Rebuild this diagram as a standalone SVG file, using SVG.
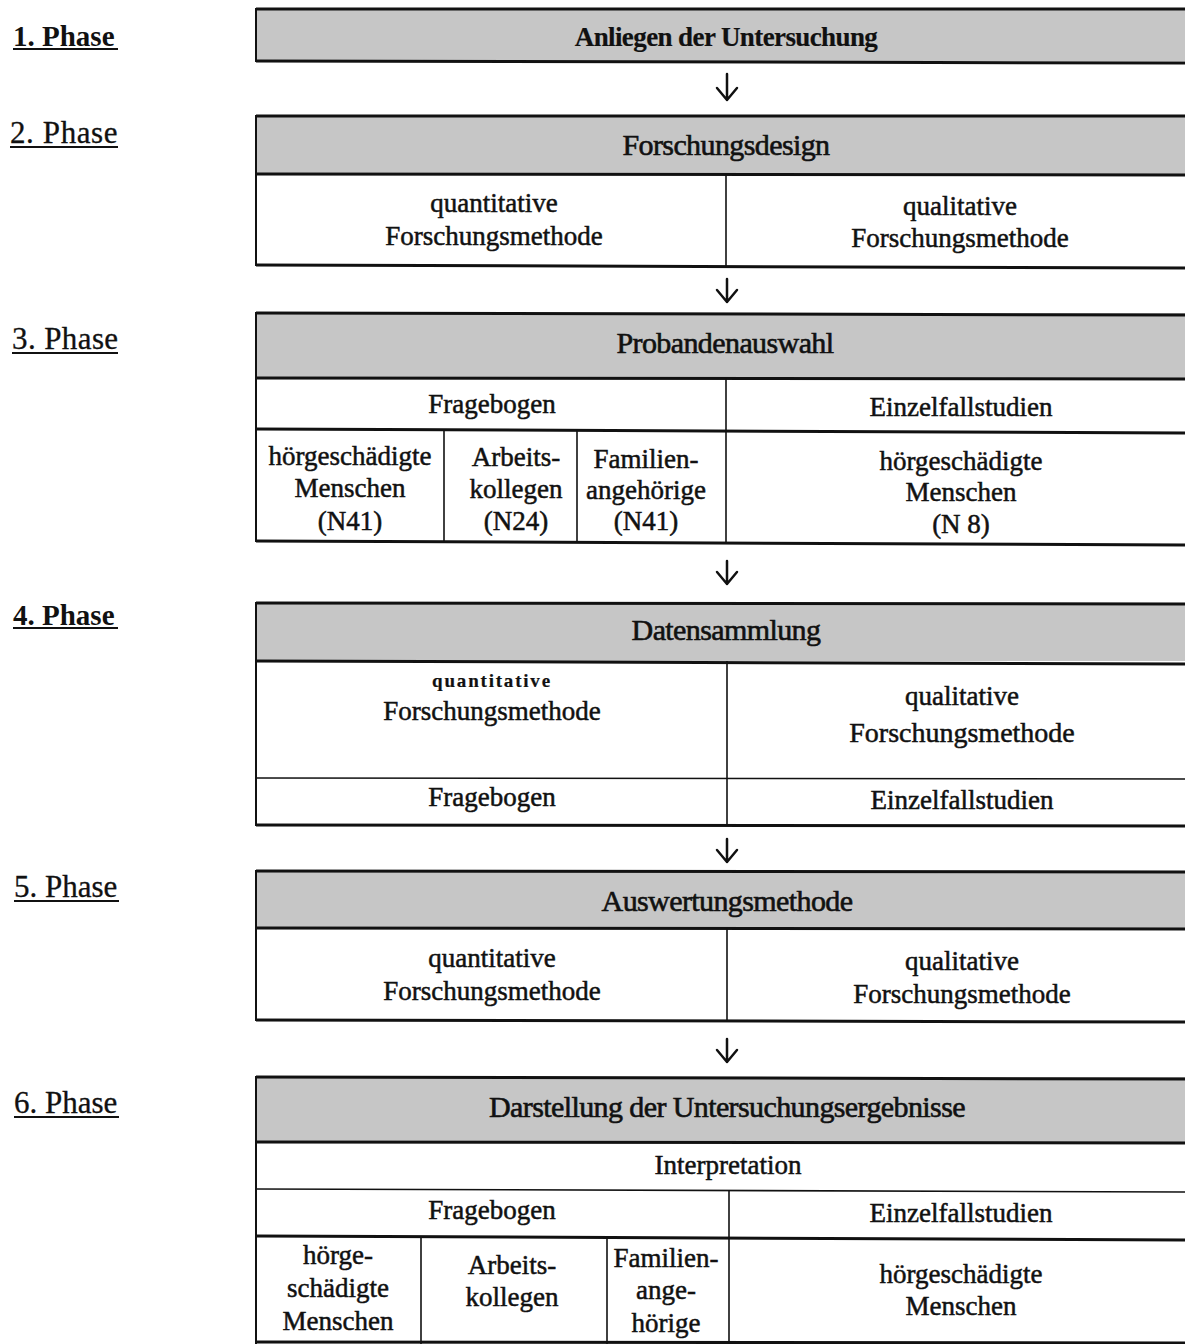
<svg xmlns="http://www.w3.org/2000/svg" width="1185" height="1344" viewBox="0 0 1185 1344">
<defs>
<style>
.hdr{fill:#c6c6c6}
.cell{fill:#ffffff}
.hl{stroke:#111;stroke-width:3;fill:none}
.vl{stroke:#111;stroke-width:1.6;fill:none}
.lb{stroke:#111;stroke-width:2;fill:none}
.t{font-family:"Liberation Serif","Times New Roman",serif;font-size:27px;fill:#111;stroke:#111;stroke-width:0.5;text-anchor:middle}
.h{font-family:"Liberation Serif","Times New Roman",serif;font-size:30px;fill:#111;stroke:#111;stroke-width:0.6;text-anchor:middle;letter-spacing:-0.6px}
.ph{font-family:"Liberation Serif","Times New Roman",serif;font-size:31px;fill:#111;stroke:#111;stroke-width:0.3}
.phb{font-family:"Liberation Serif","Times New Roman",serif;font-size:29px;font-weight:bold;fill:#111}
.ul{stroke:#111;stroke-width:2.2}
.arr{stroke:#111;stroke-width:2.5;fill:none;stroke-linecap:round;stroke-linejoin:round}
</style>
</defs>
<rect width="1185" height="1344" fill="#ffffff"/>

<g id="phase-labels">
<g id="label1"><text class="phb" x="13" y="46">1. Phase</text><line class="ul" x1="13" y1="49" x2="118" y2="49"/></g>
<g id="label2"><text class="ph" x="10" y="143" letter-spacing="0.6">2. Phase</text><line class="ul" x1="10" y1="147" x2="118" y2="147"/></g>
<g id="label3"><text class="ph" x="12" y="349" letter-spacing="0.4">3. Phase</text><line class="ul" x1="12" y1="353" x2="118" y2="353"/></g>
<g id="label4"><text class="phb" x="13" y="625">4. Phase</text><line class="ul" x1="13" y1="628" x2="118" y2="628"/></g>
<g id="label5"><text class="ph" x="14" y="897">5. Phase</text><line class="ul" x1="14" y1="901" x2="119" y2="901"/></g>
<g id="label6"><text class="ph" x="14" y="1113">6. Phase</text><line class="ul" x1="14" y1="1117" x2="119" y2="1117"/></g>
</g>

<g id="phase1">
<rect class="hdr" x="256" y="9" width="940" height="52"/>
<line class="hl" x1="256" y1="9" x2="1190" y2="9"/>
<line class="hl" x1="256" y1="61" x2="1190" y2="63"/>
<line class="lb" x1="256" y1="8" x2="256" y2="62"/>
<text class="h" x="726" y="46" style="font-weight:bold;font-size:27px;stroke-width:0.2">Anliegen der Untersuchung</text>
</g>

<g id="phase2">
<rect class="hdr" x="256" y="116" width="940" height="58"/>
<rect class="cell" x="256" y="174" width="940" height="92"/>
<line class="hl" x1="256" y1="116" x2="1190" y2="116"/>
<line class="hl" x1="256" y1="174" x2="1190" y2="175"/>
<line class="hl" x1="256" y1="265" x2="1190" y2="268"/>
<line class="lb" x1="256" y1="115" x2="256" y2="266"/>
<line class="vl" x1="726" y1="174" x2="726" y2="267"/>
<text class="h" x="726" y="155">Forschungsdesign</text>
<text class="t" x="494" y="212">quantitative</text>
<text class="t" x="494" y="245">Forschungsmethode</text>
<text class="t" x="960" y="215">qualitative</text>
<text class="t" x="960" y="247">Forschungsmethode</text>
</g>

<g id="phase3">
<rect class="hdr" x="256" y="313" width="940" height="65"/>
<rect class="cell" x="256" y="378" width="940" height="163"/>
<line class="hl" x1="256" y1="313" x2="1190" y2="315"/>
<line class="hl" x1="256" y1="378" x2="1190" y2="379"/>
<line class="hl" x1="256" y1="429" x2="1190" y2="433"/>
<line class="hl" x1="256" y1="541" x2="1190" y2="545"/>
<line class="lb" x1="256" y1="312" x2="256" y2="542"/>
<line class="vl" x1="726" y1="378" x2="726" y2="543"/>
<line class="vl" x1="444" y1="430" x2="444" y2="541"/>
<line class="vl" x1="577" y1="430" x2="577" y2="542"/>
<text class="h" x="725" y="353">Probandenauswahl</text>
<text class="t" x="492" y="413">Fragebogen</text>
<text class="t" x="961" y="416">Einzelfallstudien</text>
<text class="t" x="350" y="465">hörgeschädigte</text>
<text class="t" x="350" y="497">Menschen</text>
<text class="t" x="350" y="530">(N41)</text>
<text class="t" x="516" y="466">Arbeits-</text>
<text class="t" x="516" y="498">kollegen</text>
<text class="t" x="516" y="530">(N24)</text>
<text class="t" x="646" y="468">Familien-</text>
<text class="t" x="646" y="499">angehörige</text>
<text class="t" x="646" y="530">(N41)</text>
<text class="t" x="961" y="470">hörgeschädigte</text>
<text class="t" x="961" y="501">Menschen</text>
<text class="t" x="961" y="533">(N 8)</text>
</g>

<g id="phase4">
<rect class="hdr" x="256" y="603" width="940" height="58"/>
<rect class="cell" x="256" y="661" width="940" height="164"/>
<line class="hl" x1="256" y1="603" x2="1190" y2="604"/>
<line class="hl" x1="256" y1="661" x2="1190" y2="664"/>
<line class="vl" x1="256" y1="778" x2="1190" y2="779"/>
<line class="hl" x1="256" y1="825" x2="1190" y2="826"/>
<line class="lb" x1="256" y1="602" x2="256" y2="826"/>
<line class="vl" x1="727" y1="661" x2="727" y2="826"/>
<text class="h" x="726" y="640">Datensammlung</text>
<text class="t" x="492" y="687" style="font-size:19px;font-weight:bold;letter-spacing:1.8px;stroke-width:0.2">quantitative</text>
<text class="t" x="492" y="720">Forschungsmethode</text>
<text class="t" x="962" y="705">qualitative</text>
<text class="t" x="962" y="742" style="font-size:28px">Forschungsmethode</text>
<text class="t" x="492" y="806">Fragebogen</text>
<text class="t" x="962" y="809">Einzelfallstudien</text>
</g>

<g id="phase5">
<rect class="hdr" x="256" y="871" width="940" height="57"/>
<rect class="cell" x="256" y="928" width="940" height="92"/>
<line class="hl" x1="256" y1="871" x2="1190" y2="872"/>
<line class="hl" x1="256" y1="928" x2="1190" y2="929"/>
<line class="hl" x1="256" y1="1020" x2="1190" y2="1022"/>
<line class="lb" x1="256" y1="870" x2="256" y2="1021"/>
<line class="vl" x1="727" y1="928" x2="727" y2="1021"/>
<text class="h" x="727" y="911">Auswertungsmethode</text>
<text class="t" x="492" y="967">quantitative</text>
<text class="t" x="492" y="1000">Forschungsmethode</text>
<text class="t" x="962" y="970">qualitative</text>
<text class="t" x="962" y="1003">Forschungsmethode</text>
</g>

<g id="phase6">
<rect class="hdr" x="256" y="1077" width="940" height="65"/>
<rect class="cell" x="256" y="1142" width="940" height="202"/>
<line class="hl" x1="256" y1="1077" x2="1190" y2="1079"/>
<line class="hl" x1="256" y1="1142" x2="1190" y2="1143"/>
<line class="vl" x1="256" y1="1189" x2="1190" y2="1192"/>
<line class="hl" x1="256" y1="1236" x2="1190" y2="1240"/>
<line class="hl" x1="256" y1="1342" x2="1190" y2="1343"/>
<line class="lb" x1="256" y1="1076" x2="256" y2="1344"/>
<line class="vl" x1="729" y1="1190" x2="729" y2="1344"/>
<line class="vl" x1="421" y1="1237" x2="421" y2="1344"/>
<line class="vl" x1="607" y1="1237" x2="607" y2="1344"/>
<text class="h" x="727" y="1117">Darstellung der Untersuchungsergebnisse</text>
<text class="t" x="728" y="1174">Interpretation</text>
<text class="t" x="492" y="1219">Fragebogen</text>
<text class="t" x="961" y="1222">Einzelfallstudien</text>
<text class="t" x="338" y="1264">hörge-</text>
<text class="t" x="338" y="1297">schädigte</text>
<text class="t" x="338" y="1330">Menschen</text>
<text class="t" x="512" y="1274">Arbeits-</text>
<text class="t" x="512" y="1306">kollegen</text>
<text class="t" x="666" y="1267">Familien-</text>
<text class="t" x="666" y="1299">ange-</text>
<text class="t" x="666" y="1332">hörige</text>
<text class="t" x="961" y="1283">hörgeschädigte</text>
<text class="t" x="961" y="1315">Menschen</text>
</g>

<g id="connectors">
<path class="arr" d="M727 74 V100 M717 88 L727 100 L737 88"/>
<path class="arr" d="M727 279 V302 M717 290 L727 302 L737 290"/>
<path class="arr" d="M727 561 V584 M717 572 L727 584 L737 572"/>
<path class="arr" d="M727 839 V862 M717 850 L727 862 L737 850"/>
<path class="arr" d="M727 1039 V1062 M717 1050 L727 1062 L737 1050"/>
</g>
</svg>
